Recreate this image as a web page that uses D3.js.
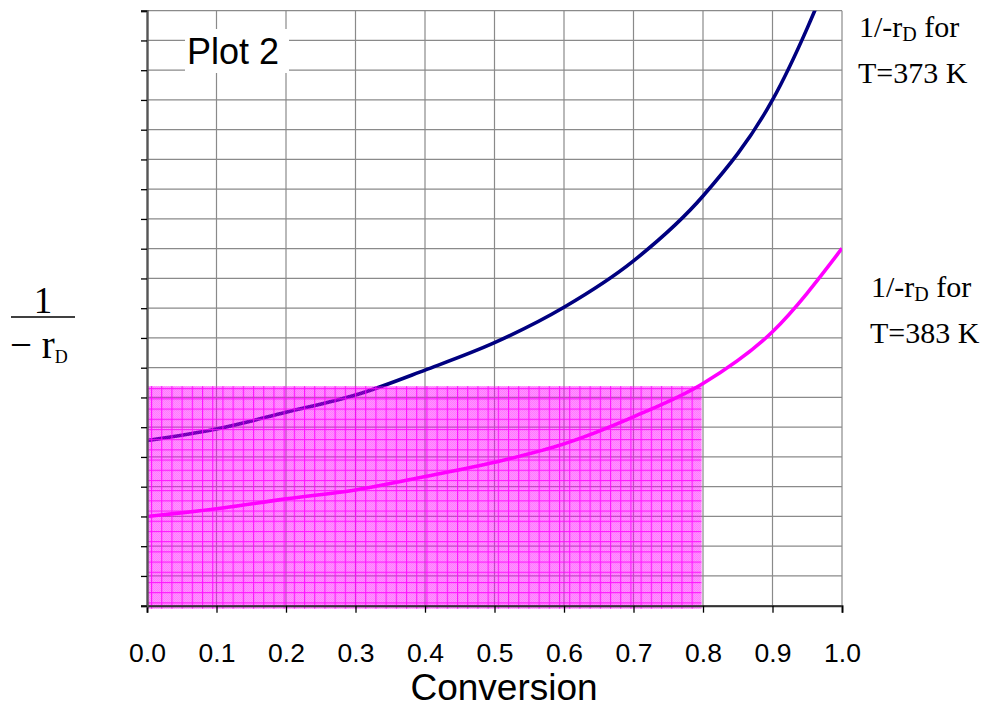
<!DOCTYPE html>
<html>
<head>
<meta charset="utf-8">
<script src="https://cdn.jsdelivr.net/npm/d3@7"></script>
<style>
  body { margin: 0; background: #fff; }
  svg { display: block; }
</style>
</head>
<body>
<svg id="chart" width="990" height="707"></svg>
<script>
// data
const conversion = [0, 0.1, 0.2, 0.3, 0.4, 0.5, 0.6, 0.7, 0.8, 0.9, 1.0];
const inv373 = [5.55, 5.94, 6.50, 7.08, 7.92, 8.84, 10.03, 11.59, 13.77, 17.0, 22.2];
const inv383 = [3.00, 3.26, 3.59, 3.89, 4.34, 4.82, 5.44, 6.35, 7.47, 9.21, 12.01];
const xTickValues = [0, 0.1, 0.2, 0.3, 0.4, 0.5, 0.6, 0.7, 0.8, 0.9, 1.0];
const yTickValues = d3.range(0, 21, 1);
const shadeX = [0, 0.8];
const shadeTop = 7.38;

const width = 990, height = 707;
const svg = d3.select("#chart");

const x = d3.scaleLinear().domain([0, 1]).range([147, 842]);
const y = d3.scaleLinear().domain([0, 20]).range([605.7, 10.7]);

const defs = svg.append("defs");

defs.append("clipPath").attr("id", "plotClip")
  .append("rect")
  .attr("x", x(0)).attr("y", y(20))
  .attr("width", x(1) - x(0)).attr("height", y(0) - y(20));

// fine grid hatch of the shaded area
const hatch = defs.append("pattern")
  .attr("id", "hatch")
  .attr("patternUnits", "userSpaceOnUse")
  .attr("x", x(0) + 4).attr("y", y(shadeTop) + 2)
  .attr("width", 10.2).attr("height", 10.2);
hatch.append("rect").attr("width", 10.2).attr("height", 1.1).attr("fill", "#ff00ff");
hatch.append("rect").attr("width", 1.1).attr("height", 10.2).attr("fill", "#ff00ff");

const dots = defs.append("pattern")
  .attr("id", "dots")
  .attr("patternUnits", "userSpaceOnUse")
  .attr("width", 2).attr("height", 2);
dots.append("rect").attr("width", 1).attr("height", 1).attr("fill", "#ff00ff");
dots.append("rect").attr("x", 1).attr("y", 1).attr("width", 1).attr("height", 1).attr("fill", "#ff00ff");

// gridlines
svg.append("g")
  .selectAll("line")
  .data(yTickValues)
  .enter()
  .append("line")
  .attr("x1", x(0)).attr("x2", x(1))
  .attr("y1", d => y(d)).attr("y2", d => y(d))
  .attr("stroke", "#8a8a8a")
  .attr("stroke-width", 1.2);

svg.append("g")
  .selectAll("line")
  .data(xTickValues.slice(1))
  .enter()
  .append("line")
  .attr("x1", d => x(d)).attr("x2", d => x(d))
  .attr("y1", y(0)).attr("y2", y(20))
  .attr("stroke", "#8a8a8a")
  .attr("stroke-width", 1.2);

// "Plot 2" box
svg.append("rect")
  .attr("x", 185).attr("y", 29)
  .attr("width", 104).attr("height", 44)
  .attr("fill", "#fff");
svg.append("text")
  .attr("x", 187).attr("y", 64)
  .attr("font-family", "Liberation Sans, Arial, sans-serif")
  .attr("font-size", 36)
  .attr("fill", "#000")
  .text("Plot 2");

// curves
const line = d3.line()
  .x(d => x(d[0]))
  .y(d => y(d[1]))
  .curve(d3.curveMonotoneX);

const curves = svg.append("g").attr("clip-path", "url(#plotClip)");
curves.append("path")
  .datum(d3.zip(conversion, inv373))
  .attr("d", line)
  .attr("fill", "none")
  .attr("stroke", "#000080")
  .attr("stroke-width", 3.6)
  .attr("stroke-linejoin", "round");
curves.append("path")
  .datum(d3.zip(conversion, inv383))
  .attr("d", line)
  .attr("fill", "none")
  .attr("stroke", "#ff00ff")
  .attr("stroke-width", 3.6)
  .attr("stroke-linejoin", "round");

// shaded area under 1/-rD (T=383 K) up to X = 0.8
const shade = svg.append("g");
const sx = x(shadeX[0]), sw = x(shadeX[1]) - x(shadeX[0]) - 1.5;
const sy = y(shadeTop), sh = y(0) - y(shadeTop) + 3;
shade.append("rect")
  .attr("x", sx).attr("y", sy).attr("width", sw).attr("height", sh)
  .attr("fill", "#ff00ff").attr("fill-opacity", 0.42);
shade.append("rect")
  .attr("x", sx).attr("y", sy).attr("width", sw).attr("height", sh)
  .attr("fill", "url(#dots)").attr("opacity", 0.18);
shade.append("rect")
  .attr("x", sx).attr("y", sy).attr("width", sw).attr("height", sh)
  .attr("fill", "url(#hatch)").attr("opacity", 0.85);

// axes
const xAxis = d3.axisBottom(x)
  .tickValues(xTickValues)
  .tickSize(7)
  .tickPadding(30)
  .tickFormat(d3.format(".1f"));

const gx = svg.append("g")
  .attr("transform", `translate(0,${y(0)})`)
  .call(xAxis);
gx.select(".domain").attr("stroke", "#333").attr("stroke-width", 2);
gx.selectAll(".tick line").attr("stroke", "#000").attr("stroke-width", 1.3);
gx.selectAll(".tick text")
  .attr("font-family", "Liberation Sans, Arial, sans-serif")
  .attr("font-size", 26.5)
  .attr("fill", "#000");

const yAxis = d3.axisLeft(y)
  .tickValues(yTickValues)
  .tickSize(6)
  .tickFormat("");

const gy = svg.append("g")
  .attr("transform", `translate(${x(0)},0)`)
  .call(yAxis);
gy.select(".domain").attr("stroke", "#555").attr("stroke-width", 2.4);
gy.selectAll(".tick line").attr("stroke", "#000").attr("stroke-width", 1.3);

// x axis title
svg.append("text")
  .attr("x", 504).attr("y", 700)
  .attr("text-anchor", "middle")
  .attr("font-family", "Liberation Sans, Arial, sans-serif")
  .attr("font-size", 37)
  .attr("fill", "#000")
  .text("Conversion");

// y axis title: 1 / (-rD)
const serif = "Liberation Serif, Times New Roman, serif";
const yTitle = svg.append("g").attr("font-family", serif).attr("fill", "#000");
yTitle.append("text")
  .attr("x", 43).attr("y", 312.5)
  .attr("text-anchor", "middle")
  .attr("font-size", 37)
  .text("1");
yTitle.append("line")
  .attr("x1", 11).attr("x2", 75)
  .attr("y1", 317).attr("y2", 317)
  .attr("stroke", "#000").attr("stroke-width", 1.6);
const den = yTitle.append("text")
  .attr("x", 10).attr("y", 358)
  .attr("font-size", 39);
den.append("tspan").text("\u2212 r");
den.append("tspan").attr("font-size", 18).attr("dy", 5).text("D");

// series labels
const seriesLabels = [
  { x: 859, y: 37, t: "373" },
  { x: 871, y: 297, t: "383" }
];
seriesLabels.forEach(s => {
  const g = svg.append("g").attr("font-family", serif).attr("font-size", 30).attr("fill", "#000");
  const t1 = g.append("text").attr("x", s.x).attr("y", s.y);
  t1.append("tspan").text("1/-r");
  t1.append("tspan").attr("font-size", 20).attr("dy", 4).text("D");
  t1.append("tspan").attr("dy", -4).text(" for");
  g.append("text").attr("x", s.x - 1).attr("y", s.y + 46).text(`T=${s.t} K`);
});
</script>
</body>
</html>
